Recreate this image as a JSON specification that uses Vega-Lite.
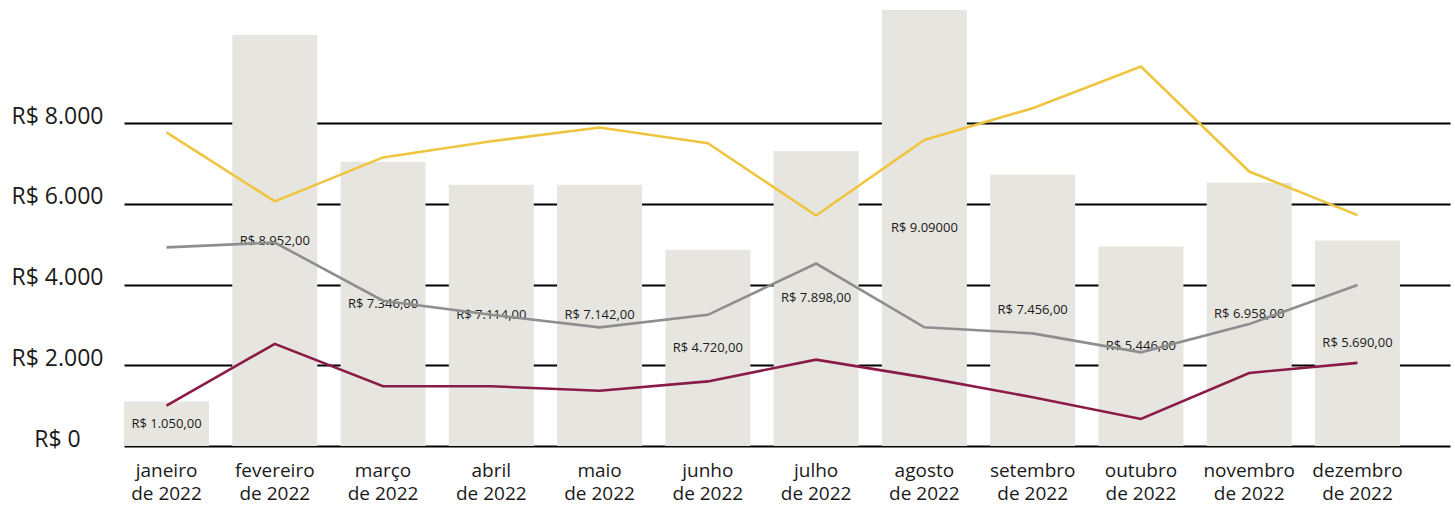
{
  "$schema": "https://vega.github.io/schema/vega-lite/v6.json",
  "width": 1326,
  "height": 444,
  "autosize": {"type": "none"},
  "padding": {"left": 124, "top": 2, "right": 5, "bottom": 62},
  "background": "white",
  "config": {"view": {"stroke": null}, "font": "Open Sans"},
  "datasets": {
    "meses": [
      {"mes": "janeiro de 2022", "valor": 1100, "rotulo": "R$ 1.050,00"},
      {"mes": "fevereiro de 2022", "valor": 10180, "rotulo": "R$ 8.952,00"},
      {"mes": "março de 2022", "valor": 7040, "rotulo": "R$ 7.346,00"},
      {"mes": "abril de 2022", "valor": 6470, "rotulo": "R$ 7.114,00"},
      {"mes": "maio de 2022", "valor": 6470, "rotulo": "R$ 7.142,00"},
      {"mes": "junho de 2022", "valor": 4860, "rotulo": "R$ 4.720,00"},
      {"mes": "julho de 2022", "valor": 7310, "rotulo": "R$ 7.898,00"},
      {"mes": "agosto de 2022", "valor": 10800, "rotulo": "R$ 9.09000"},
      {"mes": "setembro de 2022", "valor": 6720, "rotulo": "R$ 7.456,00"},
      {"mes": "outubro de 2022", "valor": 4940, "rotulo": "R$ 5.446,00"},
      {"mes": "novembro de 2022", "valor": 6520, "rotulo": "R$ 6.958,00"},
      {"mes": "dezembro de 2022", "valor": 5090, "rotulo": "R$ 5.690,00"}
    ],
    "linhas": [
      {"mes": "janeiro de 2022", "serie": "Série 1", "valor": 7770},
      {"mes": "fevereiro de 2022", "serie": "Série 1", "valor": 6060},
      {"mes": "março de 2022", "serie": "Série 1", "valor": 7150},
      {"mes": "abril de 2022", "serie": "Série 1", "valor": 7550},
      {"mes": "maio de 2022", "serie": "Série 1", "valor": 7890},
      {"mes": "junho de 2022", "serie": "Série 1", "valor": 7500},
      {"mes": "julho de 2022", "serie": "Série 1", "valor": 5710},
      {"mes": "agosto de 2022", "serie": "Série 1", "valor": 7580},
      {"mes": "setembro de 2022", "serie": "Série 1", "valor": 8370},
      {"mes": "outubro de 2022", "serie": "Série 1", "valor": 9400},
      {"mes": "novembro de 2022", "serie": "Série 1", "valor": 6800},
      {"mes": "dezembro de 2022", "serie": "Série 1", "valor": 5720},
      {"mes": "janeiro de 2022", "serie": "Série 2", "valor": 4920},
      {"mes": "fevereiro de 2022", "serie": "Série 2", "valor": 5040},
      {"mes": "março de 2022", "serie": "Série 2", "valor": 3600},
      {"mes": "abril de 2022", "serie": "Série 2", "valor": 3250},
      {"mes": "maio de 2022", "serie": "Série 2", "valor": 2940},
      {"mes": "junho de 2022", "serie": "Série 2", "valor": 3250},
      {"mes": "julho de 2022", "serie": "Série 2", "valor": 4520},
      {"mes": "agosto de 2022", "serie": "Série 2", "valor": 2940},
      {"mes": "setembro de 2022", "serie": "Série 2", "valor": 2790},
      {"mes": "outubro de 2022", "serie": "Série 2", "valor": 2320},
      {"mes": "novembro de 2022", "serie": "Série 2", "valor": 3020},
      {"mes": "dezembro de 2022", "serie": "Série 2", "valor": 3990},
      {"mes": "janeiro de 2022", "serie": "Série 3", "valor": 1000},
      {"mes": "fevereiro de 2022", "serie": "Série 3", "valor": 2530},
      {"mes": "março de 2022", "serie": "Série 3", "valor": 1480},
      {"mes": "abril de 2022", "serie": "Série 3", "valor": 1480},
      {"mes": "maio de 2022", "serie": "Série 3", "valor": 1370},
      {"mes": "junho de 2022", "serie": "Série 3", "valor": 1600},
      {"mes": "julho de 2022", "serie": "Série 3", "valor": 2140},
      {"mes": "agosto de 2022", "serie": "Série 3", "valor": 1700},
      {"mes": "setembro de 2022", "serie": "Série 3", "valor": 1210},
      {"mes": "outubro de 2022", "serie": "Série 3", "valor": 670},
      {"mes": "novembro de 2022", "serie": "Série 3", "valor": 1810},
      {"mes": "dezembro de 2022", "serie": "Série 3", "valor": 2060}
    ]
  },
  "encoding": {
    "x": {
      "field": "mes",
      "type": "nominal",
      "sort": ["janeiro de 2022", "fevereiro de 2022", "março de 2022", "abril de 2022", "maio de 2022", "junho de 2022", "julho de 2022", "agosto de 2022", "setembro de 2022", "outubro de 2022", "novembro de 2022", "dezembro de 2022"],
      "scale": {"paddingInner": 0.215, "paddingOuter": 0.231, "align": 0},
      "axis": {
        "title": null,
        "domain": false,
        "ticks": false,
        "tickSize": 0,
        "labelAngle": 0,
        "labelFontSize": 19,
        "labelColor": "#1a1a1a",
        "labelPadding": 15,
        "labelLineHeight": 23.5,
        "labelExpr": "[replace(datum.label, ' de 2022', ''), 'de 2022']"
      }
    }
  },
  "layer": [
    {
      "data": {"name": "meses"},
      "mark": {"type": "bar", "color": "#E6E5E0"},
      "encoding": {
        "y": {
          "field": "valor",
          "type": "quantitative",
          "scale": {"domain": [0, 11000], "nice": false},
          "axis": {
            "title": null,
            "domain": false,
            "ticks": false,
            "tickSize": 0,
            "values": [0, 2000, 4000, 6000, 8000],
            "grid": true,
            "gridColor": "#000000",
            "gridWidth": 2,
            "gridOpacity": 1,
            "labelFontSize": 23,
            "labelColor": "#1a1a1a",
            "labelAlign": "center",
            "labelBaseline": "middle",
            "labelPadding": 67,
            "labelOffset": -7,
            "labelExpr": "'R$ ' + replace(format(datum.value, ','), ',', '.')"
          }
        }
      }
    },
    {
      "data": {"name": "meses"},
      "mark": {"type": "text", "fontSize": 13, "color": "#1a1a1a", "baseline": "middle"},
      "encoding": {
        "y": {"field": "valor", "type": "quantitative", "scale": {"domain": [0, 22000], "nice": false}, "axis": null},
        "text": {"field": "rotulo"}
      }
    },
    {
      "data": {"name": "linhas"},
      "mark": {"type": "line", "strokeWidth": 2.6},
      "encoding": {
        "y": {"field": "valor", "type": "quantitative", "scale": {"domain": [0, 11000], "nice": false}, "axis": null},
        "color": {
          "field": "serie",
          "type": "nominal",
          "scale": {"domain": ["Série 1", "Série 2", "Série 3"], "range": ["#EFC540", "#8E8E8E", "#8A1B47"]},
          "legend": null
        }
      }
    }
  ],
  "resolve": {"scale": {"y": "independent"}}
}
